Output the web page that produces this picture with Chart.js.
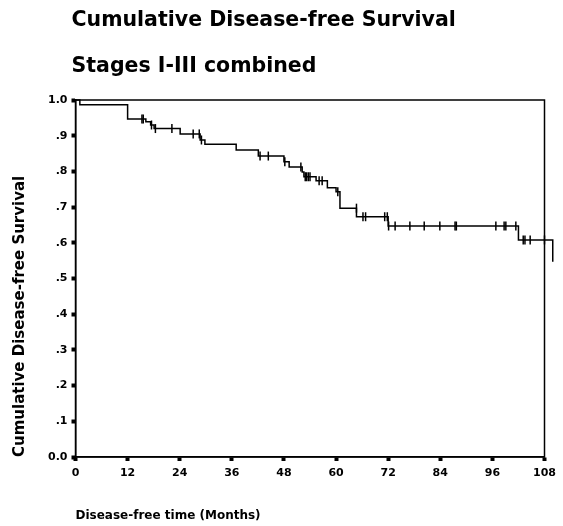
<!DOCTYPE html>
<html>
<head>
<meta charset="utf-8">
<script src="https://cdn.jsdelivr.net/npm/chart.js@4/dist/chart.umd.min.js"></script>
<style>
  body { margin: 0; background: #fff; }
  #wrap { width: 563px; height: 526px; }
</style>
</head>
<body>
<div id="wrap"><canvas id="survivalChart"></canvas></div>
<script>
// Kaplan-Meier steps (time in months, survival after the step)
const eventTimes = [0, 1, 12, 16.2, 17.3, 18.1, 24.1, 28.7, 29.8, 37.0, 42.1, 48.0, 49.2, 52.2, 52.6, 55.4, 58.0, 60.0, 60.9, 64.7, 72.0, 102.0, 109.9, 110.4];
const survival = [1.0, 0.987, 0.947, 0.939, 0.930, 0.920, 0.905, 0.888, 0.876, 0.860, 0.843, 0.827, 0.812, 0.798, 0.785, 0.774, 0.754, 0.743, 0.697, 0.673, 0.647, 0.608, 0.547, 0.547];

// censored cases
const censorTimes = [15.3, 15.6, 17.5, 18.4, 22.2, 27.1, 28.5, 29.0, 42.5, 44.4, 48.2, 51.9, 52.9, 53.2, 53.6, 54.0, 56.1, 56.8, 60.4, 64.7, 66.2, 66.8, 71.2, 71.8, 72.1, 73.6, 77.0, 80.3, 83.9, 87.4, 87.7, 96.8, 98.7, 99.1, 101.4, 103.1, 103.5, 104.7, 108.0];
const censorSurvival = [0.947, 0.947, 0.930, 0.920, 0.920, 0.905, 0.905, 0.888, 0.843, 0.843, 0.827, 0.812, 0.785, 0.785, 0.785, 0.785, 0.774, 0.774, 0.743, 0.697, 0.673, 0.673, 0.673, 0.673, 0.647, 0.647, 0.647, 0.647, 0.647, 0.647, 0.647, 0.647, 0.647, 0.647, 0.647, 0.608, 0.608, 0.608, 0.608];

const xTicks = [0, 12, 24, 36, 48, 60, 72, 84, 96, 108];
const yTickValues = [0, 0.1, 0.2, 0.3, 0.4, 0.5, 0.6, 0.7, 0.8, 0.9, 1.0];
const yTickLabels = ["0.0", ".1", ".2", ".3", ".4", ".5", ".6", ".7", ".8", ".9", "1.0"];

const fontFamily = "'DejaVu Sans', sans-serif";
const tickFont = { family: fontFamily, size: 11, weight: "bold" };

const frame = {
    id: "frame",
    afterLayout(chart) {
        // title sits a few px left of the plot edge in the original
        chart.titleBlock.left -= 4;
    },
    afterDatasetsDraw(chart) {
        const { ctx, chartArea: a } = chart;
        ctx.save();
        ctx.strokeStyle = "#000";
        ctx.lineWidth = 1.5;
        ctx.strokeRect(a.left, a.top, a.right - a.left, a.bottom - a.top);
        ctx.restore();
    },
};

new Chart(document.getElementById("survivalChart"), {
    type: "scatter",
    data: {
        datasets: [
            {
                type: "line",
                data: eventTimes.map((t, i) => ({ x: t, y: survival[i] })),
                stepped: true,
                borderColor: "#000",
                borderWidth: 1.5,
                pointRadius: 0,
                fill: false,
                clip: false,
            },
            {
                data: censorTimes.map((t, i) => ({ x: t, y: censorSurvival[i] })),
                pointStyle: "line",
                rotation: 90,
                pointRadius: 4.5,
                borderColor: "#000",
                borderWidth: 1.5,
                showLine: false,
                clip: false,
            },
        ],
    },
    options: {
        responsive: true,
        maintainAspectRatio: false,
        animation: false,
        layout: { padding: { left: 0, right: 18.5, top: 0, bottom: 0 } },
        plugins: {
            legend: { display: false },
            tooltip: { enabled: false },
            title: {
                display: true,
                text: ["Cumulative Disease-free Survival", "Stages I-III combined"],
                align: "start",
                fullSize: false,
                color: "#000",
                font: { family: fontFamily, size: 20.5, weight: "bold", lineHeight: "46px" },
                padding: { top: -2, bottom: 10 },
            },
        },
        scales: {
            x: {
                type: "linear",
                min: 0,
                max: 108,
                afterBuildTicks: (scale) => {
                    scale.ticks = xTicks.map((v) => ({ value: v }));
                },
                afterFit: (scale) => {
                    scale.height = 69;
                },
                ticks: { autoSkip: false, maxRotation: 0, color: "#000", font: tickFont, padding: 6 },
                grid: { drawOnChartArea: false, tickLength: 4, tickWidth: 4, tickColor: "#000" },
                border: { color: "#000", width: 1.5 },
                title: {
                    display: true,
                    text: "Disease-free time (Months)",
                    align: "start",
                    color: "#000",
                    font: { family: fontFamily, size: 12, weight: "bold" },
                    padding: { top: 0, bottom: 3 },
                },
            },
            y: {
                min: 0,
                max: 1,
                afterBuildTicks: (scale) => {
                    scale.ticks = yTickValues.map((v) => ({ value: v }));
                },
                afterFit: (scale) => {
                    scale.width = 75.5;
                },
                ticks: {
                    autoSkip: false,
                    color: "#000",
                    font: tickFont,
                    padding: 4,
                    callback: (v, i) => yTickLabels[i],
                },
                grid: { drawOnChartArea: false, tickLength: 4, tickWidth: 4, tickColor: "#000" },
                border: { color: "#000", width: 1.5 },
                title: {
                    display: true,
                    text: "Cumulative Disease-free Survival",
                    align: "start",
                    color: "#000",
                    font: { family: fontFamily, size: 15, weight: "bold" },
                    padding: { top: 11, bottom: 0 },
                },
            },
        },
    },
    plugins: [frame],
});
</script>
</body>
</html>
